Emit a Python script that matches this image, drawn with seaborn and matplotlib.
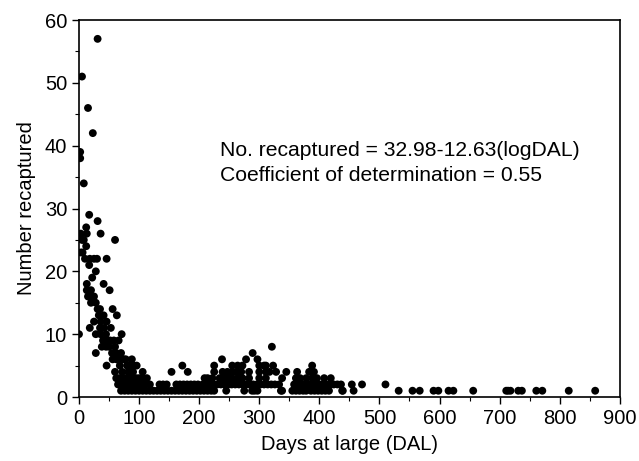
import matplotlib
matplotlib.use("Agg")
import matplotlib.pyplot as plt
from matplotlib.ticker import MultipleLocator
import seaborn as sns
import pandas as pd

# Steep early part (days at large, number recaptured)
steep_dal = [31,5,15,23,2,2,8,17,31,12,
             3,13,36,8,60,5,12,3,6,18,
             25,30,46,17,28,13,41,13,51,17,
             25,15,20,28,31,35,41,56,63,36,
             46,53,0,18,28,36,45,58,66,71,
             28,38,45,50,55,60,46,56,63,70,
             75,40,48,33,25,20,10,22,35,42,
             52,62]
steep_n = [57,51,46,42,39,38,34,29,28,27,
           26,26,26,25,25,25,24,23,23,22,
           22,22,22,21,20,18,18,17,17,16,
           16,16,15,15,14,14,13,14,13,12,
           12,11,10,11,10,10,10,9,9,10,
           7,8,8,8,7,8,5,6,6,7,
           6,9,9,13,12,17,22,19,11,11,
           9,7]

# Low counts: days at large for each recapture count
n8_dal = [321]
n7_dal = [289]
n6_dal = [63, 70, 78, 88, 238, 278, 297]
n5_dal = [68, 80, 85, 91, 96, 172, 225, 255, 264, 272, 300, 308, 311, 323, 388]
n4_dal = [60, 72, 82, 90, 106, 154, 181, 225, 239, 247, 255, 262, 270, 283,
          300, 311, 317, 328, 345, 363, 383, 391]
n3_dal = [62, 67, 72, 77, 83, 88, 95, 100, 106, 113, 209, 214, 222, 234, 241,
          248, 255, 264, 272, 283, 300, 311, 338, 361, 368, 378, 388, 396, 408, 419]
n2_dal = [65, 70, 75, 80, 86, 92, 98, 104, 110, 118, 134, 140, 146, 162, 168,
          174, 180, 186, 192, 198, 206, 212, 218, 224, 230, 236, 242, 248, 254,
          260, 266, 272, 278, 284, 290, 296, 302, 308, 314, 320, 326, 333, 358,
          364, 370, 376, 382, 388, 394, 400, 406, 412, 418, 424, 430, 436, 454,
          471, 510]
n1_dal = [70, 76, 82, 88, 94, 100, 106, 112, 118, 124, 130, 136, 142, 148, 154,
          160, 166, 172, 178, 184, 190, 196, 202, 208, 214, 220, 225, 245, 275,
          288, 292, 297, 336, 338, 355, 361, 367, 373, 378, 386, 392, 398, 404,
          410, 416, 438, 439, 457, 532, 555, 567, 590, 598, 615, 623, 656, 711,
          714, 718, 731, 737, 761, 771, 815, 859]

low_rows = [(8, n8_dal), (7, n7_dal), (6, n6_dal), (5, n5_dal),
            (4, n4_dal), (3, n3_dal), (2, n2_dal), (1, n1_dal)]

dal = list(steep_dal)
num = list(steep_n)
for n, days in low_rows:
    dal += days
    num += [n] * len(days)
df = pd.DataFrame({"dal": dal, "n": num})

sns.set_style("ticks")
plt.rcParams["font.family"] = ["Liberation Sans", "DejaVu Sans"]

fig = plt.figure(figsize=(6.39, 4.61), dpi=100)
ax = fig.add_axes([0.1236, 0.1388, 0.8464, 0.8178])
sns.scatterplot(data=df, x="dal", y="n", ax=ax, color="black", s=32,
                edgecolor="none", linewidth=0)

ax.set_xlim(0, 900)
ax.set_ylim(0, 60)
ax.xaxis.set_major_locator(MultipleLocator(100))
ax.xaxis.set_minor_locator(MultipleLocator(50))
ax.yaxis.set_major_locator(MultipleLocator(10))
ax.yaxis.set_minor_locator(MultipleLocator(5))
ax.tick_params(axis="both", which="major", labelsize=14.5, length=5, width=1,
               color="black", labelcolor="black", direction="out")
ax.tick_params(axis="both", which="minor", length=3, width=0.8, color="black")
for sp in ax.spines.values():
    sp.set_visible(True)
    sp.set_color("black")
    sp.set_linewidth(1.2)

ax.set_xlabel("Days at large (DAL)", fontsize=14.5, color="black", labelpad=5)
ax.set_ylabel("Number recaptured", fontsize=14.5, color="black", labelpad=6)

ax.text(235, 39.3, "No. recaptured = 32.98-12.63(logDAL)", fontsize=15.2,
        va="center", ha="left", color="black")
ax.text(235, 35.2, "Coefficient of determination = 0.55", fontsize=15.2,
        va="center", ha="left", color="black")

fig.savefig("out.png", dpi=100)
